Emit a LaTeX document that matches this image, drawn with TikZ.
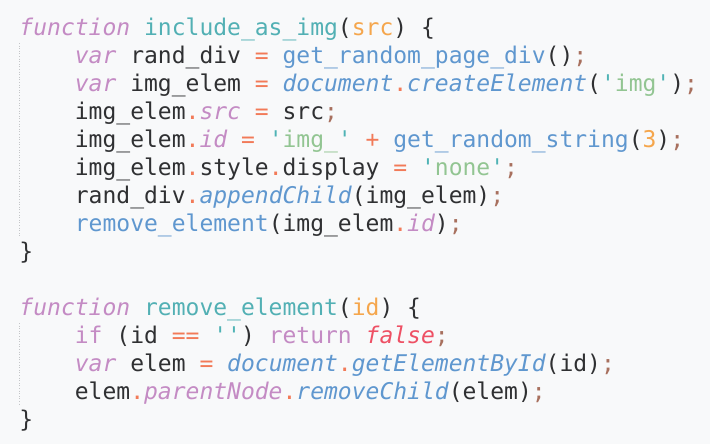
\documentclass[tikz,border=0pt]{standalone}
\usepackage{fontspec}
\usepackage{xcolor}
\newfontfamily\codefont{DejaVu Sans Mono}

\definecolor{bgc}{HTML}{F8F9FA}
\definecolor{txtc}{HTML}{2F3032}
\definecolor{kwc}{HTML}{C48BC4}
\definecolor{defc}{HTML}{52B0B4}
\definecolor{argc}{HTML}{F5A64C}
\definecolor{callc}{HTML}{5F97CF}
\definecolor{opc}{HTML}{F27A58}
\definecolor{semic}{HTML}{A8705E}
\definecolor{strc}{HTML}{92C592}
\definecolor{quotec}{HTML}{4FB3B5}
\definecolor{boolc}{HTML}{EE5064}
\definecolor{guidec}{HTML}{C4C6C8}

% token colours
\newcommand\jkw[1]{\textcolor{kwc}{\itshape #1}}
\newcommand\jkwu[1]{\textcolor{kwc}{#1}}
\newcommand\jdef[1]{\textcolor{defc}{#1}}
\newcommand\jarg[1]{\textcolor{argc}{#1}}
\newcommand\jcall[1]{\textcolor{callc}{#1}}
\newcommand\jmeth[1]{\textcolor{callc}{\itshape #1}}
\newcommand\jop[1]{\textcolor{opc}{#1}}
\newcommand\jsemi{\textcolor{semic}{;}}
\newcommand\jstr[1]{\textcolor{quotec}{'}\textcolor{strc}{#1}\textcolor{quotec}{'}}
\newcommand\jbool[1]{\textcolor{boolc}{\itshape #1}}

\tikzset{
  codeline/.style={anchor=base west, inner sep=0pt, outer sep=0pt,
    font=\codefont\fontsize{23}{28}\selectfont, text=txtc},
  guide/.style={draw=guidec, line width=0.8pt, dash pattern=on 1pt off 1.6pt}
}

\begin{document}
\begin{tikzpicture}[x=1pt, y=-1pt]
      \fill[bgc] (0,0) rectangle (710,444);
      \useasboundingbox (0,0) rectangle (710,444);

      % indent guides
      \draw[guide] (19,43) -- (19,238);
      \draw[guide] (19,323) -- (19,406);

      % first function
      \node[codeline] (l1) at (19.5,35.7) {\jkw{function} \jdef{include\_as\_img}(\jarg{src}) \{};
      \node[codeline] (l2) at (74.9,63.7) {\jkw{var} rand\_div \jop{=} \jcall{get\_random\_page\_div}()\jsemi};
      \node[codeline] (l3) at (74.9,91.7) {\jkw{var} img\_elem \jop{=} \jmeth{document}\jop{.}\jmeth{createElement}(\jstr{img})\jsemi};
      \node[codeline] (l4) at (74.9,119.7) {img\_elem\jop{.}\jkw{src} \jop{=} src\jsemi};
      \node[codeline] (l5) at (74.9,147.7) {img\_elem\jop{.}\jkw{id} \jop{=} \jstr{img\_} \jop{+} \jcall{get\_random\_string}(\jarg{3})\jsemi};
      \node[codeline] (l6) at (74.9,175.7) {img\_elem\jop{.}style\jop{.}display \jop{=} \jstr{none}\jsemi};
      \node[codeline] (l7) at (74.9,203.7) {rand\_div\jop{.}\jmeth{appendChild}(img\_elem)\jsemi};
      \node[codeline] (l8) at (74.9,231.7) {\jcall{remove\_element}(img\_elem\jop{.}\jkw{id})\jsemi};
      \node[codeline] (l9) at (19.5,259.7) {\}};

      % second function
      \node[codeline] (l11) at (19.5,315.7) {\jkw{function} \jdef{remove\_element}(\jarg{id}) \{};
      \node[codeline] (l12) at (74.9,343.7) {\jkwu{if} (id \jop{==} \jstr{}) \jkwu{return} \jbool{false}\jsemi};
      \node[codeline] (l13) at (74.9,371.7) {\jkw{var} elem \jop{=} \jmeth{document}\jop{.}\jmeth{getElementById}(id)\jsemi};
      \node[codeline] (l14) at (74.9,399.7) {elem\jop{.}\jkw{parentNode}\jop{.}\jmeth{removeChild}(elem)\jsemi};
      \node[codeline] (l15) at (19.5,427.7) {\}};
\end{tikzpicture}
\end{document}
